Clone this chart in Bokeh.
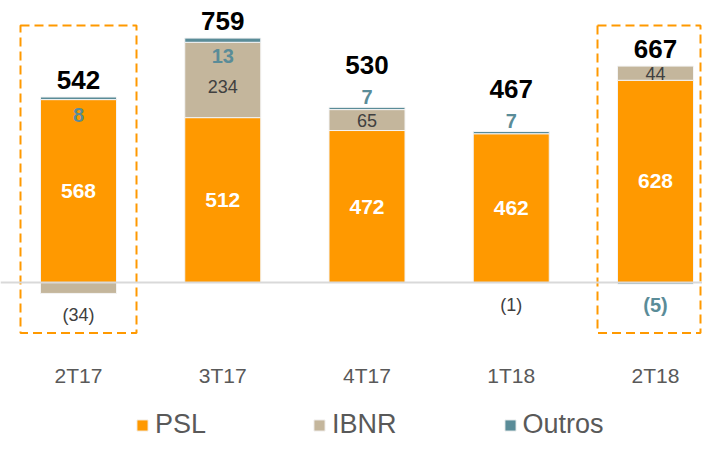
import numpy as np
from bokeh.plotting import figure
from bokeh.models import Range1d, Span, ColumnDataSource, Legend, LegendItem
from bokeh.core.properties import value
from bokeh.embed import file_html
from bokeh.resources import INLINE

# ---- data ----
categories = ["2T17", "3T17", "4T17", "1T18", "2T18"]
psl = [568, 512, 472, 462, 628]
ibnr = [-34, 234, 65, -1, 44]
outros = [8, 13, 7, 7, -5]
totals = [542, 759, 530, 467, 667]
highlighted = ["2T17", "2T18"]
series_names = ["PSL", "IBNR", "Outros"]

# ---- styles ----
ORANGE = "#FF9900"
TAN = "#C4B69C"
TEAL = "#5A8C98"
GREY_TXT = "#595959"
DARK_TXT = "#404040"
FONT = value("Liberation Sans")
outros_label_place = ["inside", "inside", "above", "above", "below"]

W, H = 702, 439
PX_PER_UNIT = 0.322      # vertical scale
ZERO_PX = 282            # zero line from top of canvas
SLOT = 144.25            # px between categories
FIRST = 78               # px of first category centre
UPP = 1.0 / PX_PER_UNIT  # data units per px
XPP = 1.0 / SLOT
BAR_W = 76 * XPP

n = len(categories)
xs = np.arange(n, dtype=float)
x_start, x_end = -FIRST * XPP, (W - FIRST) * XPP

p = figure(width=W, height=H,
           x_range=Range1d(x_start, x_end),
           y_range=Range1d(-(H - ZERO_PX) * UPP, ZERO_PX * UPP),
           x_axis_type=None, y_axis_type=None,
           output_backend="svg", toolbar_location=None,
           min_border=0, min_border_left=0, min_border_right=0,
           min_border_top=0, min_border_bottom=0)
p.grid.visible = False
p.outline_line_color = None
p.background_fill_color = "white"
p.border_fill_color = "white"

# ---- manual stacking with positive / negative bases ----
pos_base = np.zeros(n)
neg_base = np.zeros(n)
bottoms, tops = [], []
for vals in (psl, ibnr, outros):
    v = np.array(vals, dtype=float)
    b = np.where(v >= 0, pos_base, neg_base + v)
    t = np.where(v >= 0, pos_base + v, neg_base)
    pos_base = np.where(v >= 0, pos_base + v, pos_base)
    neg_base = np.where(v < 0, neg_base + v, neg_base)
    bottoms.append(b)
    tops.append(t)

colors = [ORANGE, TAN, TEAL]
renderers = []
for i, name in enumerate(series_names):
    src = ColumnDataSource(dict(x=xs, top=tops[i], bottom=bottoms[i]))
    r = p.vbar(x="x", width=BAR_W, top="top", bottom="bottom", source=src,
               fill_color=colors[i], line_color="#F4F4F4", line_width=1)
    renderers.append(r)

# zero line
p.add_layout(Span(location=0, dimension="width", line_color="#D9D9D9", line_width=2))

# highlight boxes
hx = [categories.index(c) for c in highlighted]
BOX_HALF = 58 * XPP
p.quad(left=[x - BOX_HALF for x in hx],
       right=[min(x + BOX_HALF, x_end - 2 * XPP) for x in hx],
       bottom=-157, top=798, fill_color=None, line_color=ORANGE,
       line_width=2, line_dash="9 5")

def fmt(v):
    return f"({abs(v)})" if v < 0 else f"{v}"

# PSL labels
psl_a = np.array(psl, dtype=float)
p.text(x=xs, y=psl_a / 2, text=[fmt(v) for v in psl], text_align="center",
       text_baseline="middle", text_color="white", text_font=FONT,
       text_font_style="bold", text_font_size="21px")

pos_top = pos_base
neg_bot = neg_base

# IBNR labels
ib_x, ib_y, ib_t, ib_off = [], [], [], []
for i, v in enumerate(ibnr):
    ib_x.append(xs[i])
    ib_t.append(fmt(v))
    if v >= 0:
        seg_b, seg_t = bottoms[1][i], tops[1][i]
        if outros_label_place[i] == "inside" and outros[i] > 0:
            ib_y.append((seg_b + pos_top[i] - 18 * UPP) / 2)
        else:
            ib_y.append((seg_b + seg_t) / 2)
        ib_off.append(0)
    else:
        ib_y.append(neg_bot[i])
        ib_off.append(22)
p.text(x=ib_x, y=ib_y, y_offset=ib_off, text=ib_t, text_align="center",
       text_baseline="middle", text_color=DARK_TXT, text_font=FONT,
       text_font_size="18px")

# Outros labels
o_y, o_off = [], []
for i, v in enumerate(outros):
    place = outros_label_place[i]
    if place == "below":
        o_y.append(neg_bot[i]); o_off.append(21)
    elif place == "inside":
        o_y.append(pos_top[i]); o_off.append(18)
    else:
        o_y.append(pos_top[i]); o_off.append(-10)
p.text(x=xs, y=o_y, y_offset=o_off, text=[fmt(v) for v in outros],
       text_align="center", text_baseline="middle", text_color=TEAL,
       text_font=FONT, text_font_style="bold", text_font_size="20px")

# Totals
t_off = [-42 if outros_label_place[i] == "above" else -17 for i in range(n)]
p.text(x=xs, y=pos_top, y_offset=t_off, text=[str(v) for v in totals],
       text_align="center", text_baseline="middle", text_color="black",
       text_font=FONT, text_font_style="bold", text_font_size="26px")

# Category labels
p.text(x=xs, y=np.zeros(n), y_offset=93, text=categories, text_align="center",
       text_baseline="middle", text_color=GREY_TXT, text_font=FONT,
       text_font_size="21px")

# Legend
legend = Legend(items=[LegendItem(label=nm, renderers=[r]) for nm, r in zip(series_names, renderers)],
                orientation="horizontal", location=(135, -1),
                glyph_width=14, glyph_height=14, label_standoff=6, spacing=106,
                padding=0, margin=0, border_line_color=None,
                background_fill_alpha=0, label_text_font="Liberation Sans",
                label_text_font_size="27px", label_text_color=GREY_TXT)
p.add_layout(legend, "center")

open("out.html", "w").write(file_html(p, INLINE))
